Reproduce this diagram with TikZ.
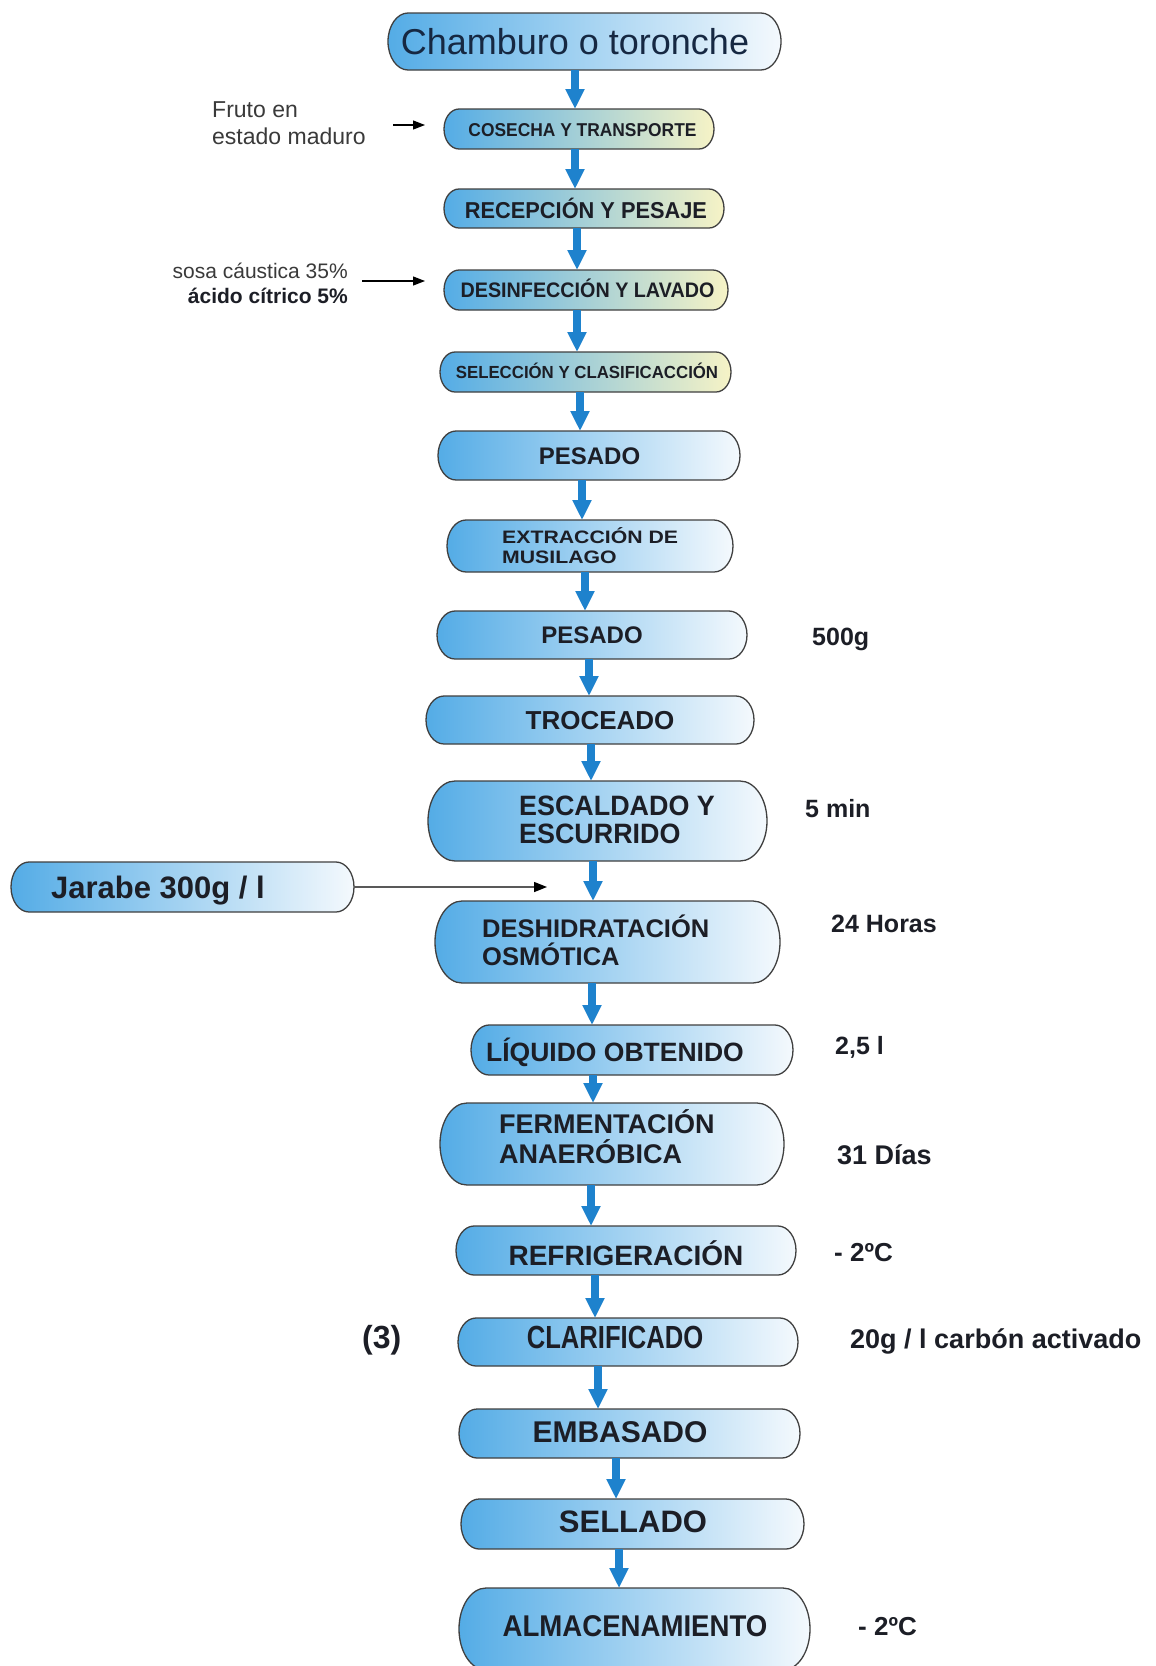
\documentclass[tikz,border=0pt]{standalone}
\usepackage{fontspec}
\setmainfont{Liberation Sans}
\usepackage{graphicx}
\usetikzlibrary{arrows.meta}

\definecolor{boxblue}{RGB}{84,172,230}
\definecolor{boxpale}{RGB}{244,249,253}
\definecolor{boxcream}{RGB}{246,243,198}
\definecolor{edgegray}{RGB}{64,64,64}
\definecolor{flowblue}{RGB}{30,130,205}
\definecolor{inktext}{RGB}{28,30,38}
\definecolor{navytext}{RGB}{22,40,66}
\definecolor{notegray}{RGB}{58,58,58}

% font size helper (size = baseline skip)
\newcommand\fsz[1]{\fontsize{#1}{#1}\selectfont}

% capsule-shaped step box: name, cx, cy, width, height, end radius, style
\newcommand\capsulebox[7]{%
  \path[#7] ({#2-#4/2+#6},{#3-#5/2}) -- ({#2+#4/2-#6},{#3-#5/2})
     arc[start angle=-90,end angle=90,x radius=#6,y radius=#5/2]
     -- ({#2-#4/2+#6},{#3+#5/2})
     arc[start angle=90,end angle=270,x radius=#6,y radius=#5/2] -- cycle;
  \node[anchorbox, minimum width=#4, minimum height=#5] (#1) at (#2,#3) {};
}

\tikzset{
  capsule/.style={draw=edgegray, line width=1.3pt, left color=boxblue,
    right color=boxpale, middle color=boxblue!50!boxpale},
  capsulecream/.style={draw=edgegray, line width=1.3pt, left color=boxblue,
    right color=boxcream, middle color=boxblue!50!boxcream},
  anchorbox/.style={rectangle, inner sep=0pt, outer sep=0pt},
  flowline/.style={draw=flowblue, line width=8pt, -{Triangle[width=18pt,length=20pt]}},
  noteline/.style={draw=black, line width=1.2pt, -{Triangle[width=9pt,length=12pt]}},
  feedline/.style={draw=black!65, line width=1.5pt, -{Triangle[width=10pt,length=13pt,color=black]}},
  steptext/.style={inner sep=0pt, text=inktext, font=\bfseries, anchor=base},
  leftstep/.style={steptext, anchor=base west},
  sidenote/.style={inner sep=0pt, text=inktext, font=\bfseries, anchor=base west},
  plainnote/.style={inner sep=0pt, text=notegray},
}

\begin{document}
\begin{tikzpicture}[x=1pt, y=-1pt]
\fill[white] (0,0) rectangle (1156,1666);
\useasboundingbox (0,0) rectangle (1156,1666);

% ---- step boxes ----
\capsulebox{cham}{584.5}{41.5}{393}{57}{20}{capsule}
\capsulebox{cos}{579}{129}{270}{40}{15}{capsulecream}
\capsulebox{rec}{584}{208.5}{280}{39}{15}{capsulecream}
\capsulebox{des}{586}{290}{284}{40}{15}{capsulecream}
\capsulebox{sel}{585.5}{372}{291}{40}{15}{capsulecream}
\capsulebox{pes1}{589}{455.5}{302}{49}{18}{capsule}
\capsulebox{ext}{590}{546}{286}{52}{19}{capsule}
\capsulebox{pes2}{592}{635}{310}{48}{18}{capsule}
\capsulebox{tro}{590}{720}{328}{48}{18}{capsule}
\capsulebox{esc}{597.5}{821}{339}{80}{27}{capsule}
\capsulebox{jar}{182.5}{887}{343}{50}{18}{capsule}
\capsulebox{osm}{607.5}{942}{345}{82}{27}{capsule}
\capsulebox{liq}{632}{1050}{322}{50}{18}{capsule}
\capsulebox{fer}{612}{1144}{344}{82}{27}{capsule}
\capsulebox{ref}{626}{1250.5}{340}{49}{18}{capsule}
\capsulebox{cla}{628}{1342}{340}{48}{18}{capsule}
\capsulebox{emb}{629.5}{1433.5}{341}{49}{18}{capsule}
\capsulebox{sell}{632.5}{1524}{343}{50}{18}{capsule}
\capsulebox{alm}{634.5}{1629}{351}{82}{27}{capsule}

% ---- box labels ----
\node[steptext, font=\fsz{36}, text=navytext] (cham-t) at (575,54.5) {Chamburo o toronche};
\node[steptext, font=\fsz{18.6}\bfseries] (cos-t) at (582.5,136) {\scalebox{0.935}[1]{COSECHA Y TRANSPORTE}};
\node[steptext, font=\fsz{23}\bfseries] (rec-t) at (586,218) {\scalebox{0.947}[1]{RECEPCIÓN Y PESAJE}};
\node[steptext, font=\fsz{21}\bfseries] (des-t) at (587.5,297.5) {\scalebox{0.94}[1]{DESINFECCIÓN Y LAVADO}};
\node[steptext, font=\fsz{17.5}\bfseries] (sel-t) at (587,378) {\scalebox{0.96}[1]{SELECCIÓN Y CLASIFICACCIÓN}};
\node[steptext, font=\fsz{24}\bfseries] (pes1-t) at (589.5,464) {PESADO};
\node[leftstep, font=\fsz{18}\bfseries] (ext-t1) at (502,543) {\scalebox{1.18}[1]{EXTRACCIÓN DE}};
\node[leftstep, font=\fsz{18}\bfseries] (ext-t2) at (502,563) {\scalebox{1.18}[1]{MUSILAGO}};
\node[steptext, font=\fsz{24}\bfseries] (pes2-t) at (592,643.5) {PESADO};
\node[steptext, font=\fsz{26}\bfseries] (tro-t) at (600,729) {TROCEADO};
\node[leftstep, font=\fsz{28}\bfseries] (esc-t1) at (519,815) {\scalebox{0.96}[1]{ESCALDADO Y}};
\node[leftstep, font=\fsz{28}\bfseries] (esc-t2) at (519,843) {\scalebox{0.96}[1]{ESCURRIDO}};
\node[leftstep, font=\fsz{31}\bfseries] (jar-t) at (51,898) {Jarabe 300g / l};
\node[leftstep, font=\fsz{25.5}\bfseries] (osm-t1) at (482,937) {DESHIDRATACIÓN};
\node[leftstep, font=\fsz{25.5}\bfseries] (osm-t2) at (482,965) {OSMÓTICA};
\node[steptext, font=\fsz{26.5}\bfseries] (liq-t) at (615,1061) {LÍQUIDO OBTENIDO};
\node[leftstep, font=\fsz{27}\bfseries] (fer-t1) at (499,1133.5) {FERMENTACIÓN};
\node[leftstep, font=\fsz{27}\bfseries] (fer-t2) at (499,1163.5) {ANAERÓBICA};
\node[steptext, font=\fsz{28}\bfseries] (ref-t) at (626,1265) {REFRIGERACIÓN};
\node[steptext, font=\fsz{32}\bfseries] (cla-t) at (615,1348) {\scalebox{0.8}[1]{CLARIFICADO}};
\node[steptext, font=\fsz{30}\bfseries] (emb-t) at (620,1442) {EMBASADO};
\node[steptext, font=\fsz{31}\bfseries] (sell-t) at (633,1532.5) {SELLADO};
\node[steptext, font=\fsz{30}\bfseries] (alm-t) at (635,1636) {\scalebox{0.92}[1]{ALMACENAMIENTO}};

% ---- process parameters ----
\node[sidenote, font=\fsz{25}\bfseries] (n-500) at (812,645) {500g};
\node[sidenote, font=\fsz{25}\bfseries] (n-5min) at (805,817) {5 min};
\node[sidenote, font=\fsz{25}\bfseries] (n-24h) at (831,932) {24 Horas};
\node[sidenote, font=\fsz{25}\bfseries] (n-25l) at (835,1054) {2,5 l};
\node[sidenote, font=\fsz{27}\bfseries] (n-31d) at (837,1164) {31 Días};
\node[sidenote, font=\fsz{26}\bfseries] (n-ref) at (834,1261) {- 2ºC};
\node[sidenote, font=\fsz{27}\bfseries] (n-clar) at (850,1348) {20g / l carbón activado};
\node[sidenote, font=\fsz{26}\bfseries] (n-alm) at (858,1635) {- 2ºC};
\node[sidenote, font=\fsz{32}\bfseries] (n-three) at (362,1348) {(3)};

% ---- inputs ----
\node[plainnote, anchor=base west, font=\fsz{23}] (fruto1) at (212,117) {Fruto en};
\node[plainnote, anchor=base west, font=\fsz{23}] (fruto2) at (212,144) {estado maduro};
\node[plainnote, anchor=base east, font=\fsz{21}] (sosa) at (348,278) {sosa cáustica 35\%};
\node[plainnote, anchor=base east, font=\fsz{21}\bfseries, text=inktext] (acido) at (348,303) {ácido cítrico 5\%};

\coordinate (fr-s) at (393,125);
\coordinate (fr-e) at (425,125);
\coordinate (so-s) at (362,281);
\coordinate (so-e) at (425,281);
\coordinate (ja-e) at (547,887);
\draw[noteline] (fr-s) -- (fr-e);
\draw[noteline] (so-s) -- (so-e);
\draw[feedline] (jar.east) -- (jar.east -| ja-e);

% ---- main flow ----
\foreach \a/\b/\x in {cham/cos/575, cos/rec/575, rec/des/577, des/sel/577,
    sel/pes1/580, pes1/ext/582, ext/pes2/585, pes2/tro/589, tro/esc/591,
    esc/osm/593, osm/liq/592, liq/fer/593, fer/ref/591, ref/cla/595,
    cla/emb/598, emb/sell/616, sell/alm/619}{
  \coordinate (fx) at (\x,0);
  \draw[flowline] (\a.south -| fx) -- (\b.north -| fx);
}
\end{tikzpicture}
\end{document}
